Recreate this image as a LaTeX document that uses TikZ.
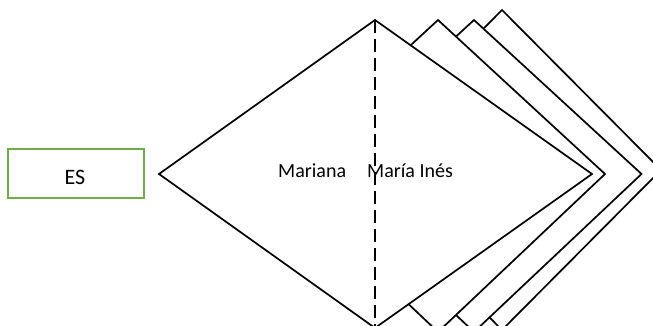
\documentclass[tikz,border=0pt]{standalone}
\usepackage{fontspec}
\setmainfont{Carlito}
\definecolor{esgreen}{HTML}{70AD47}
\begin{document}
\begin{tikzpicture}[x=1pt,y=-1pt,
  card/.style={draw=black,fill=white,line width=1.7pt},
  lbl/.style={font=\fontsize{20}{22}\selectfont,inner sep=0pt},
  esbox/.style={draw=esgreen,line width=2pt,fill=white}]
\useasboundingbox (0,0) rectangle (653,326);
\clip (0,0) rectangle (653,326);
% back cards
\draw[card] (502,10) -- (661,170) -- (502,330) -- (343,170) -- cycle;
\draw[card] (474,20) -- (641.5,174) -- (474,332) -- (306.5,174) -- cycle;
\draw[card] (438,20) -- (605,174) -- (438,332) -- (271,174) -- cycle;
% front card
\coordinate (ftop) at (375,20);
\coordinate (fbot) at (375,328);
\draw[card] (159,174) -- (ftop) -- (592,174) -- (fbot) -- cycle;
\draw[line width=1.7pt,dash pattern=on 13pt off 6pt] (ftop) -- (fbot);
% labels
\node[lbl,anchor=base west] (m1) at (278,177) {Mariana};
\node[lbl,anchor=base west] (m2) at (367,177) {María Inés};
% ES box
\node[esbox,minimum width=136pt,minimum height=49pt,inner sep=0pt] (es) at (76,173.5) {};
\node[inner sep=0pt,anchor=base,font=\fontsize{22}{24}\selectfont] (estext) at (75,184) {ES};
\end{tikzpicture}
\end{document}
